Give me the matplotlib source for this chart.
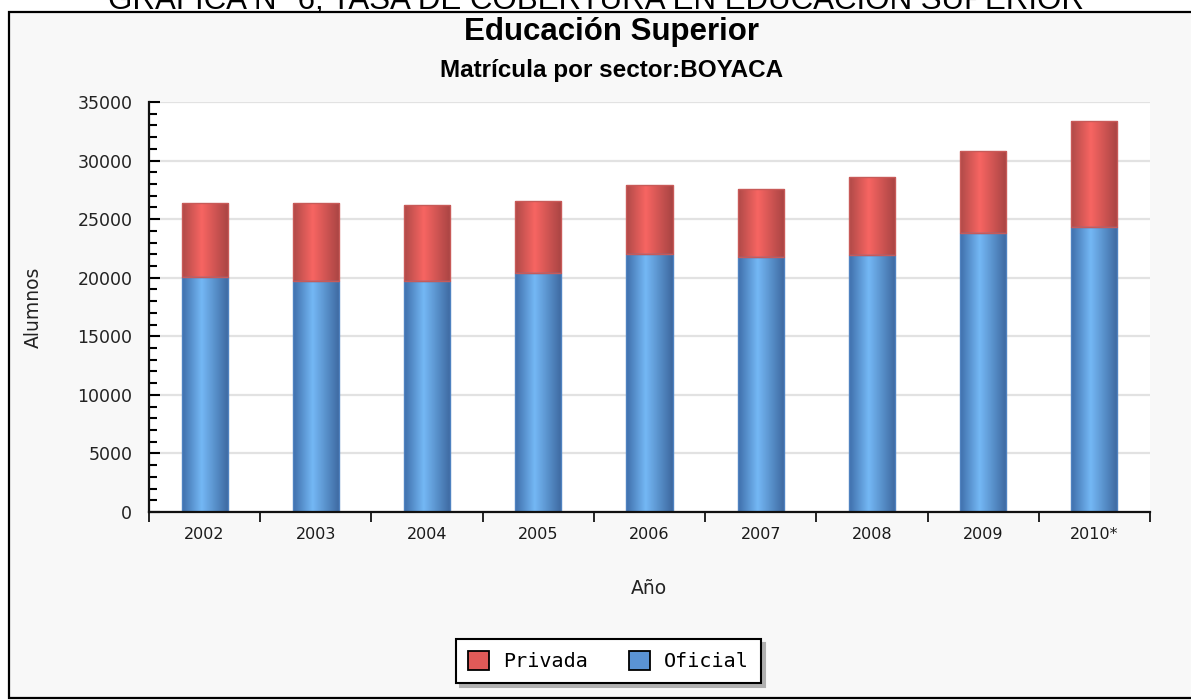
import numpy as np
import matplotlib
matplotlib.use("Agg")
import matplotlib.pyplot as plt
from matplotlib.patches import Rectangle
from matplotlib.colors import to_rgb
from matplotlib.ticker import MultipleLocator, FixedLocator

years = ["2002", "2003", "2004", "2005", "2006", "2007", "2008", "2009", "2010*"]
oficial = [20090, 19740, 19740, 20430, 21990, 21800, 21970, 23850, 24360]
privada = [6260, 6610, 6450, 6100, 5920, 5760, 6610, 6950, 9010]

W, H = 1191, 700
fig = plt.figure(figsize=(W / 100, H / 100), dpi=100)
fig.patch.set_facecolor("white")

# outer panel (light gray with border, right side runs off the image)
fig.patches.append(Rectangle((8.5 / W, 2.5 / H), 1.0, (H - 12 - 2.5) / H,
                             transform=fig.transFigure, facecolor="#f8f8f8",
                             edgecolor="black", linewidth=1.6, zorder=-5))

fig.text(0.5, 1 - 9 / H, "GRAFICA N° 6, TASA DE COBERTURA EN EDUCACIÓN SUPERIOR",
         ha="center", va="baseline", fontsize=22.5, family="Liberation Sans")
fig.text(611 / W, 1 - 32 / H, "Educación Superior", ha="center", va="center",
         fontsize=22.5, fontweight="bold", family="Liberation Sans")
fig.text(612 / W, 1 - 71 / H, "Matrícula por sector:BOYACA", ha="center", va="center",
         fontsize=17.5, fontweight="bold", family="Liberation Sans")

ax = fig.add_axes([149 / W, 1 - 512 / H, (1150 - 149) / W, (512 - 102) / H])
ax.set_facecolor("white")

x = np.arange(len(years))
bw = 0.415
b_of = ax.bar(x, oficial, width=bw, color="#5a93d4", zorder=2)
b_pr = ax.bar(x, privada, width=bw, bottom=oficial, color="#e05a58", zorder=2)


def shade(bars, left, peak, right, edge):
    t = np.linspace(0, 1, 64)
    cols = np.array([to_rgb(left), to_rgb(peak), to_rgb(right)])
    img = np.stack([np.interp(t, [0, 0.42, 1], cols[:, k]) for k in range(3)], axis=-1)
    img = img[np.newaxis, :, :]
    for p in bars:
        x0, y0 = p.get_x(), p.get_y()
        im = ax.imshow(img, extent=[x0, x0 + p.get_width(), y0, y0 + p.get_height()],
                       aspect="auto", interpolation="bilinear", zorder=2.5)
        im.set_clip_path(p)
        p.set_edgecolor(edge)
        p.set_linewidth(1.0)
        p.set_zorder(3)
        p.set_facecolor("none")


shade(b_of, "#3f6fab", "#74b8f5", "#3d68a0", "#4f82c0")
shade(b_pr, "#b04a48", "#f76562", "#a84443", "#c85a58")

ax.set_xlim(-0.5, len(years) - 0.5)
ax.set_ylim(0, 35000)
ax.yaxis.set_major_locator(MultipleLocator(5000))
ax.yaxis.set_minor_locator(MultipleLocator(1000))
ax.set_xticks(x)
ax.set_xticklabels(years)
ax.xaxis.set_minor_locator(FixedLocator(np.arange(-0.5, len(years), 1.0)))

ax.grid(axis="y", which="major", color="#e2e2e2", linewidth=1.6, zorder=1)
ax.set_axisbelow(True)

for s in ["top", "right"]:
    ax.spines[s].set_visible(False)
for s in ["left", "bottom"]:
    ax.spines[s].set_linewidth(1.6)
    ax.spines[s].set_color("#111111")
    ax.spines[s].set_zorder(4)

ax.tick_params(axis="y", which="major", direction="in", length=8, width=1.5,
               pad=12, labelsize=12.5, labelcolor="#222222")
ax.tick_params(axis="y", which="minor", direction="in", length=6, width=1.5)
ax.tick_params(axis="x", which="major", length=0, pad=11, labelsize=11.5,
               labelcolor="#1a1a1a")
ax.tick_params(axis="x", which="minor", direction="out", length=7, width=1.2)

ax.set_ylabel("Alumnos", fontsize=13.5, color="#222222")
ax.yaxis.set_label_coords(-(149 - 43) / (1150 - 149), 0.5)
fig.text(649 / W, 1 - 588 / H, "Año", ha="center", va="center",
         fontsize=13.5, color="#222222")

leg = fig.legend([b_pr[0], b_of[0]], ["Privada", "Oficial"], loc="center",
                 bbox_to_anchor=(608.5 / W, 1 - 661 / H), ncol=2,
                 prop={"family": "DejaVu Sans Mono", "size": 14.5},
                 handlelength=1.05, handleheight=1.05, handletextpad=0.7,
                 columnspacing=2.0, borderpad=0.6, borderaxespad=0.0,
                 fancybox=False,
                 shadow={"ox": 3, "oy": -3, "color": "#b0b0b0", "alpha": 1})
leg.get_frame().set_edgecolor("black")
leg.get_frame().set_linewidth(1.5)
leg.get_frame().set_alpha(1)
for h, c in zip(leg.legend_handles, ["#e05a58", "#5a93d4"]):
    h.set_facecolor(c)
    h.set_edgecolor("black")
    h.set_linewidth(1.3)

fig.savefig("out.png", dpi=100)
